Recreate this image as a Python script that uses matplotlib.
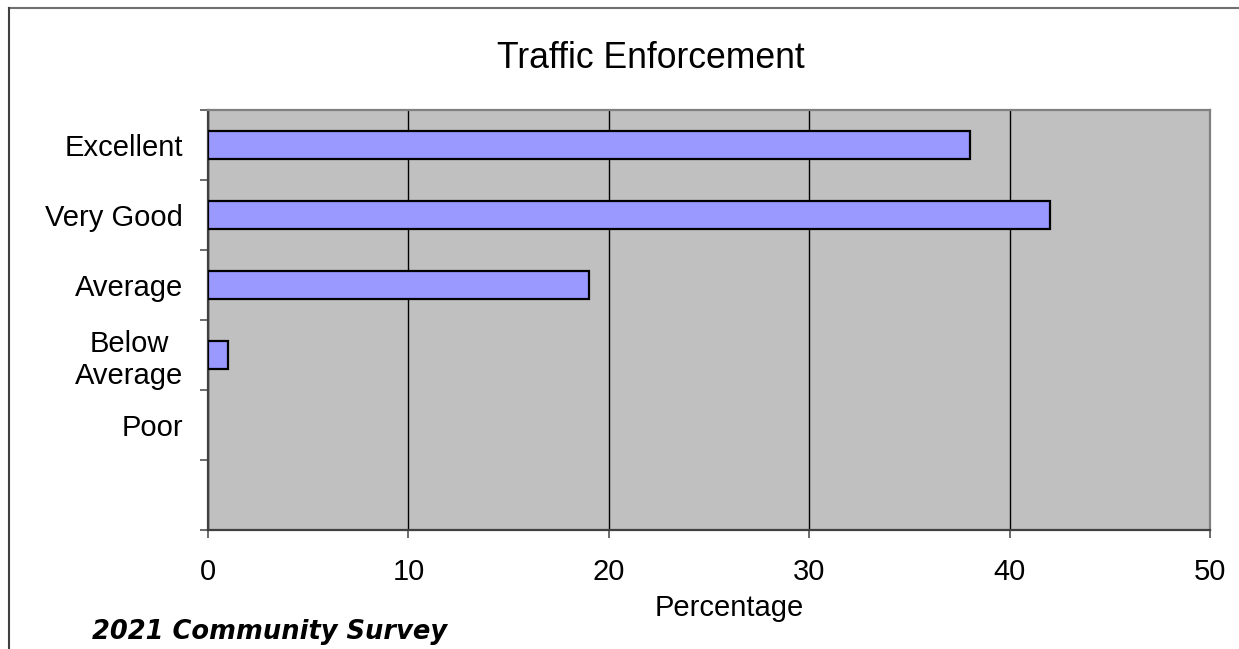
import matplotlib
matplotlib.use("Agg")
import matplotlib.pyplot as plt
from matplotlib.lines import Line2D
from matplotlib.ticker import FixedLocator

categories = ["Excellent", "Very Good", "Average", "Below\nAverage", "Poor", ""]
values = [38, 42, 19, 1, 0]
xticks = [0, 10, 20, 30, 40, 50]

plt.rcParams['font.family'] = ['Liberation Sans', 'DejaVu Sans']

W, H = 1239, 649
fig = plt.figure(figsize=(W / 100, H / 100), dpi=100)
ax = fig.add_axes([208 / W, 1 - 530 / H, (1210 - 208) / W, (530 - 110) / H])
ax.set_facecolor('#C0C0C0')

pos = list(range(len(categories)))
edges = ['black' if v > 0 else 'none' for v in values]
ax.barh(pos[:len(values)], values, height=0.4, color='#9999FF', edgecolor=edges, linewidth=1.6, zorder=3)

ax.set_xlim(0, 50)
ax.set_ylim(len(categories) - 0.5, -0.5)
ax.set_xticks(xticks)
ax.set_xticklabels([str(t) for t in xticks], fontsize=21)
ax.set_yticks(pos)
ax.set_yticklabels(categories, fontsize=21, ha='right', multialignment='center')
ax.yaxis.set_minor_locator(FixedLocator([p - 0.5 for p in pos] + [len(pos) - 0.5]))
ax.tick_params(axis='y', which='major', length=0, pad=18)
ax.tick_params(axis='y', which='minor', length=6, width=1.3, color='#606060', direction='out')
ax.tick_params(axis='x', which='major', length=6, width=1.3, color='#606060', direction='out', pad=14)

ax.grid(axis='x', color='black', linewidth=1.0, zorder=1)
ax.set_axisbelow(True)

for s in ['left', 'bottom']:
    ax.spines[s].set_color('#404040')
    ax.spines[s].set_linewidth(1.6)
for s in ['top', 'right']:
    ax.spines[s].set_color('#808080')
    ax.spines[s].set_linewidth(1.6)

fig.text(651 / W, 1 - 58 / H, "Traffic Enforcement", fontsize=25.6, ha='center', va='center')
fig.text(729 / W, 1 - 608 / H, "Percentage", fontsize=21, ha='center', va='center')
fig.text(92 / W, 1 - 632 / H, "2021 Community Survey", fontsize=18.5, fontweight='bold',
         fontstyle='italic', family=['DejaVu Sans'], ha='left', va='center')

fig.add_artist(Line2D([9 / W, 1], [1 - 8 / H, 1 - 8 / H], transform=fig.transFigure, color='#707070', linewidth=1.5))
fig.add_artist(Line2D([9 / W, 9 / W], [0, 1 - 8 / H], transform=fig.transFigure, color='#404040', linewidth=1.5))

fig.savefig("out.png", dpi=100)
